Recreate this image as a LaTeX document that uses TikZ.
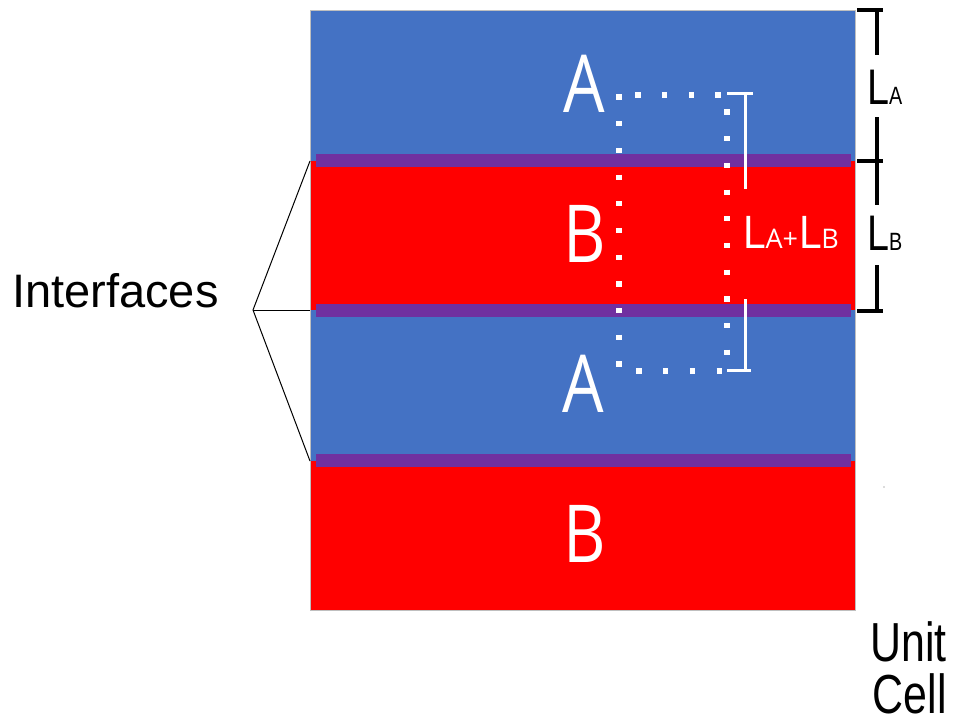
\documentclass[tikz,border=0pt]{standalone}
\usepackage{fontspec}
\setmainfont{Liberation Sans}
\newfontfamily\osans{Open Sans}
\definecolor{layerA}{HTML}{4472C4}
\definecolor{layerB}{HTML}{FF0000}
\definecolor{iface}{HTML}{7030A0}
\begin{document}
\begin{tikzpicture}[x=1pt,y=-1pt,
  layerbox/.style={draw=black!25, line width=0.8pt},
  band/.style={fill=iface, draw=none},
  bigletter/.style={anchor=base west, inner sep=0pt, text=white, font=\osans\fontsize{80}{80}\selectfont},
  dotline/.style={white, line width=5.2pt, dash pattern=on 5.2pt off 21.5pt},
  wbar/.style={white, line width=3pt},
  kbar/.style={black, line width=3.5pt},
  lbl/.style={inner sep=0pt, anchor=base west}]
\useasboundingbox (0,0) rectangle (956,725);
% layers
\fill[layerA] (310,10) rectangle (855,161);
\fill[layerB] (310,161) rectangle (855,310);
\fill[layerA] (310,310) rectangle (855,461);
\fill[layerB] (310,461) rectangle (855,610);
\draw[layerbox] (310,10) rectangle (855,610);
% interfaces
\fill[band] (316,154) rectangle (851,167);
\fill[band] (316,304) rectangle (851,317);
\fill[band] (316,454) rectangle (851,467);
% letters
\node[bigletter] (a1) at (563,112) {\scalebox{0.82}[1]{A}};
\node[bigletter] (b1) at (563,262) {\scalebox{0.82}[1]{B}};
\node[bigletter] (a2) at (562,412) {\scalebox{0.82}[1]{A}};
\node[bigletter] (b2) at (563,562) {\scalebox{0.82}[1]{B}};
% dotted rectangle
\coordinate (dl1) at (619,94.4);
\coordinate (dl2) at (619,367);
\coordinate (dt1) at (720.6,95);
\coordinate (dt2) at (635,95);
\coordinate (dr1) at (727,109.4);
\coordinate (dr2) at (727,355);
\coordinate (db1) at (636.4,371);
\coordinate (db2) at (722,371);
\draw[dotline] (dl1) -- (dl2);
\draw[dotline] (dt1) -- (dt2);
\draw[dotline] (dr1) -- (dr2);
\draw[dotline] (db1) -- (db2);
% white I-bar
\coordinate (wt) at (745,93);
\coordinate (wtm) at (745,189);
\coordinate (wbm) at (745,299);
\coordinate (wb) at (745,370);
\draw[wbar] (wt) -- (wtm);
\draw[wbar] (wbm) -- (wb);
\draw[wbar] (727,93) -- (753,93);
\draw[wbar] (727,370) -- (751,370);
\node[lbl, text=white, font=\osans] (lab) at (742,248)
  {\fontsize{45}{45}\selectfont L\fontsize{27}{27}\selectfont A+\fontsize{45}{45}\selectfont L\fontsize{27}{27}\selectfont B};
% black bracket
\coordinate (k0) at (877,10);
\coordinate (k0b) at (877,55);
\coordinate (k1a) at (877,117);
\coordinate (k1) at (877,161);
\coordinate (k1b) at (877,205);
\coordinate (k2a) at (877,265);
\coordinate (k2) at (877,311);
\draw[kbar] (k0) -- (k0b);
\draw[kbar] (k1a) -- (k1b);
\draw[kbar] (k2a) -- (k2);
\draw[kbar] (857,10) -- (883,10);
\draw[kbar] (857,161) -- (883,161);
\draw[kbar] (857,311) -- (883,311);
\node[lbl] (la) at (867,104) {\scalebox{0.79}[1]{\fontsize{50}{50}\selectfont L\fontsize{25}{25}\selectfont A}};
\node[lbl] (lb) at (867,250) {\scalebox{0.79}[1]{\fontsize{50}{50}\selectfont L\fontsize{25}{25}\selectfont B}};
% interfaces label
\node[lbl, font=\fontsize{47}{47}\selectfont] (intf) at (12,307) {Interfaces};
\coordinate (tip) at (253,310);
\coordinate (i1) at (310,161);
\coordinate (i2) at (310,310);
\coordinate (i3) at (310,461);
\draw[black, line width=1pt] (i1) -- (tip) -- (i3);
\draw[black, line width=1pt] (tip) -- (i2);
% unit cell
\node[inner sep=0pt, anchor=base east, font=\fontsize{55}{55}\selectfont] (unit) at (947,661) {\scalebox{0.78}[1]{Unit}};
\node[inner sep=0pt, anchor=base east, font=\fontsize{55}{55}\selectfont] (cell) at (947,713) {\scalebox{0.78}[1]{Cell}};
% speck
\fill[black!60] (884,487) circle (0.6);
\end{tikzpicture}
\end{document}
